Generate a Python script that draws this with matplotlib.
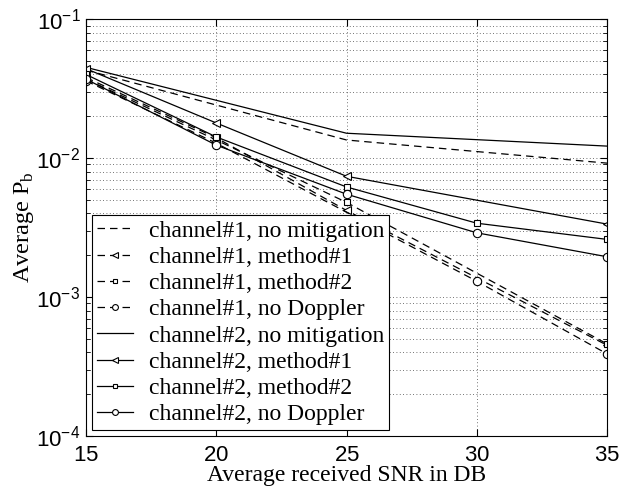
import math
import matplotlib
matplotlib.use('Agg')
import matplotlib.pyplot as plt
from matplotlib.ticker import LogLocator, FuncFormatter, NullFormatter

plt.rcParams['font.family'] = 'Liberation Serif'
plt.rcParams['mathtext.fontset'] = 'custom'
plt.rcParams['mathtext.rm'] = 'Liberation Serif'
plt.rcParams['mathtext.sf'] = 'Liberation Sans'

# channel#1 (dashed)
ch1_none_x = [15, 25, 35]
ch1_none = [0.043, 0.0135, 0.0092]
ch1_m1_x = [15, 20, 25, 35]
ch1_m1 = [0.038, 0.0140, 0.0042, 0.00045]
ch1_m2_x = [15, 20, 25, 35]
ch1_m2 = [0.037, 0.0135, 0.0048, 0.00046]
ch1_nodop_x = [15, 20, 30, 35]
ch1_nodop = [0.036, 0.0128, 0.00130, 0.00039]

# channel#2 (solid)
ch2_none_x = [15, 25, 35]
ch2_none = [0.045, 0.0151, 0.0122]
ch2_m1_x = [15, 20, 25, 35]
ch2_m1 = [0.044, 0.0179, 0.0074, 0.00335]
ch2_m2_x = [15, 20, 25, 30, 35]
ch2_m2 = [0.040, 0.0142, 0.0062, 0.0034, 0.0026]
ch2_nodop_x = [15, 20, 25, 30, 35]
ch2_nodop = [0.037, 0.0124, 0.0055, 0.0029, 0.00195]

labels = ['channel#1, no mitigation', 'channel#1, method#1',
          'channel#1, method#2', 'channel#1, no Doppler',
          'channel#2, no mitigation', 'channel#2, method#1',
          'channel#2, method#2', 'channel#2, no Doppler']

fig = plt.figure(figsize=(6.35, 4.91), dpi=100)
ax = fig.add_axes([0.1354, 0.112, 0.8206, 0.849])

dash = (0, (6, 4))
mk = dict(color='black', lw=0.9, markerfacecolor='white', markeredgecolor='black', markeredgewidth=0.8)
ax.plot(ch1_none_x, ch1_none, linestyle=dash, label=labels[0], **mk)
ax.plot(ch1_m1_x, ch1_m1, linestyle=dash, marker='<', ms=6, label=labels[1], **mk)
ax.plot(ch1_m2_x, ch1_m2, linestyle=dash, marker='s', ms=5, label=labels[2], **mk)
ax.plot(ch1_nodop_x, ch1_nodop, linestyle=dash, marker='o', ms=6, label=labels[3], **mk)
ax.plot(ch2_none_x, ch2_none, linestyle='-', label=labels[4], **mk)
ax.plot(ch2_m1_x, ch2_m1, linestyle='-', marker='<', ms=6, label=labels[5], **mk)
ax.plot(ch2_m2_x, ch2_m2, linestyle='-', marker='s', ms=5, label=labels[6], **mk)
ax.plot(ch2_nodop_x, ch2_nodop, linestyle='-', marker='o', ms=6, label=labels[7], **mk)

ax.set_yscale('log')
ax.set_xlim(15, 35)
ax.set_ylim(1e-4, 1e-1)
ax.set_xticks([15, 20, 25, 30, 35])
ax.xaxis.set_major_formatter(FuncFormatter(lambda v, p: r'$\mathsf{%d}$' % v))
ax.yaxis.set_major_locator(LogLocator(base=10, numticks=10))
ax.yaxis.set_minor_locator(LogLocator(base=10, subs=range(2, 10), numticks=100))
ax.yaxis.set_minor_formatter(NullFormatter())
ax.yaxis.set_major_formatter(FuncFormatter(lambda v, p: r'$\mathsf{10^{%d}}$' % round(math.log10(v))))
ax.tick_params(which='both', direction='in', top=True, right=True, labelsize=16)
ax.tick_params(which='major', length=5)
ax.tick_params(which='minor', length=3)
ax.tick_params(axis='x', which='major', pad=8)
ax.tick_params(axis='y', which='major', pad=4)
ax.grid(True, which='major', linestyle=(0, (1, 3)), color='#444444', lw=0.6)
ax.grid(True, which='minor', axis='y', linestyle=(0, (1, 3)), color='#444444', lw=0.6)

ax.set_xlabel('Average received SNR in DB', fontsize=17, labelpad=-1)
ax.set_ylabel(r'Average P$_\mathrm{b}$', fontsize=17.5, labelpad=0)

leg = ax.legend(loc='lower left', fontsize=17, frameon=True, fancybox=False,
                edgecolor='black', framealpha=1, borderaxespad=0.25,
                handlelength=1.55, labelspacing=0.2, borderpad=0.2,
                handletextpad=0.65, markerscale=0.7)
leg.get_frame().set_linewidth(0.8)

fig.savefig('out.png', dpi=100)
